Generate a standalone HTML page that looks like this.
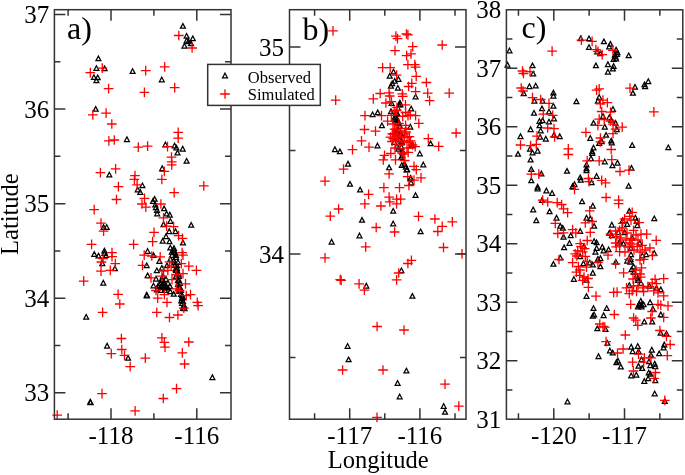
<!DOCTYPE html>
<html><head><meta charset="utf-8"><style>
html,body{margin:0;padding:0;background:#fff;width:685px;height:475px;overflow:hidden}
svg{display:block}
text{font-family:"Liberation Serif",serif;fill:#000}
svg{will-change:transform}
</style></head><body>
<svg width="685" height="475" viewBox="0 0 685 475">
<defs>
<path id="p" d="M-4.85 0h9.7M0 -4.85v9.7" stroke="#f00" stroke-width="1.3" fill="none"/>
<path id="t" d="M0 -2.3L2.45 2.3L-2.45 2.3Z" stroke="#000" stroke-width="1.25" fill="none"/>
</defs>
<rect width="685" height="475" fill="#fff"/>
<g>
<use href="#t" x="98.4" y="58.4"/>
<use href="#t" x="96.4" y="68.1"/>
<use href="#t" x="104.6" y="68.4"/>
<use href="#t" x="93.9" y="77.1"/>
<use href="#t" x="97.7" y="77.4"/>
<use href="#t" x="96.4" y="80.3"/>
<use href="#t" x="132.6" y="71.1"/>
<use href="#t" x="182.9" y="25.9"/>
<use href="#t" x="186.6" y="35.8"/>
<use href="#t" x="192.8" y="38.3"/>
<use href="#t" x="186.6" y="40.6"/>
<use href="#t" x="191.0" y="43.4"/>
<use href="#t" x="184.4" y="45.8"/>
<use href="#t" x="188.4" y="41.4"/>
<use href="#t" x="161.8" y="79.5"/>
<use href="#t" x="95.7" y="108.9"/>
<use href="#t" x="126.9" y="139.2"/>
<use href="#t" x="109.3" y="174.6"/>
<use href="#t" x="142.4" y="185.3"/>
<use href="#t" x="137.7" y="189.5"/>
<use href="#t" x="140.3" y="192.0"/>
<use href="#t" x="165.4" y="144.5"/>
<use href="#t" x="174.6" y="145.5"/>
<use href="#t" x="176.4" y="147.6"/>
<use href="#t" x="182.7" y="148.7"/>
<use href="#t" x="177.5" y="152.6"/>
<use href="#t" x="186.6" y="160.8"/>
<use href="#t" x="162.2" y="168.2"/>
<use href="#t" x="103.6" y="227.0"/>
<use href="#t" x="106.7" y="227.0"/>
<use href="#t" x="94.3" y="254.0"/>
<use href="#t" x="98.5" y="255.6"/>
<use href="#t" x="104.4" y="250.6"/>
<use href="#t" x="104.4" y="253.1"/>
<use href="#t" x="106.1" y="255.2"/>
<use href="#t" x="102.3" y="263.2"/>
<use href="#t" x="114.9" y="268.3"/>
<use href="#t" x="154.6" y="198.9"/>
<use href="#t" x="155.3" y="204.6"/>
<use href="#t" x="155.9" y="207.2"/>
<use href="#t" x="164.1" y="208.4"/>
<use href="#t" x="157.2" y="213.5"/>
<use href="#t" x="166.6" y="213.5"/>
<use href="#t" x="169.8" y="214.7"/>
<use href="#t" x="170.4" y="221.0"/>
<use href="#t" x="163.5" y="224.2"/>
<use href="#t" x="169.2" y="231.2"/>
<use href="#t" x="175.5" y="231.2"/>
<use href="#t" x="166.0" y="236.2"/>
<use href="#t" x="191.2" y="224.9"/>
<use href="#t" x="162.7" y="240.8"/>
<use href="#t" x="169.5" y="241.3"/>
<use href="#t" x="183.0" y="242.5"/>
<use href="#t" x="147.6" y="251.0"/>
<use href="#t" x="153.5" y="255.2"/>
<use href="#t" x="146.7" y="265.3"/>
<use href="#t" x="159.4" y="261.0"/>
<use href="#t" x="156.8" y="270.3"/>
<use href="#t" x="147.6" y="275.4"/>
<use href="#t" x="153.5" y="285.5"/>
<use href="#t" x="146.7" y="294.7"/>
<use href="#t" x="170.3" y="247.6"/>
<use href="#t" x="173.7" y="250.1"/>
<use href="#t" x="172.0" y="255.2"/>
<use href="#t" x="173.7" y="260.2"/>
<use href="#t" x="167.0" y="265.3"/>
<use href="#t" x="177.0" y="265.3"/>
<use href="#t" x="161.9" y="267.8"/>
<use href="#t" x="178.7" y="273.7"/>
<use href="#t" x="161.9" y="278.7"/>
<use href="#t" x="160.2" y="283.0"/>
<use href="#t" x="165.3" y="285.5"/>
<use href="#t" x="170.3" y="291.4"/>
<use href="#t" x="177.9" y="280.4"/>
<use href="#t" x="178.7" y="287.2"/>
<use href="#t" x="182.1" y="295.6"/>
<use href="#t" x="181.3" y="300.6"/>
<use href="#t" x="183.8" y="305.7"/>
<use href="#t" x="184.6" y="308.2"/>
<use href="#t" x="173.7" y="293.9"/>
<use href="#t" x="156.0" y="278.7"/>
<use href="#t" x="163.6" y="282.1"/>
<use href="#t" x="168.0" y="287.9"/>
<use href="#t" x="159.5" y="285.0"/>
<use href="#t" x="164.2" y="287.0"/>
<use href="#t" x="175.6" y="268.9"/>
<use href="#t" x="171.8" y="251.9"/>
<use href="#t" x="170.4" y="259.0"/>
<use href="#t" x="174.6" y="262.3"/>
<use href="#t" x="103.3" y="282.7"/>
<use href="#t" x="86.2" y="316.8"/>
<use href="#t" x="107.1" y="345.7"/>
<use href="#t" x="128.1" y="357.9"/>
<use href="#t" x="90.2" y="401.7"/>
<use href="#t" x="212.4" y="377.2"/>
<use href="#t" x="163.0" y="276.0"/>
<use href="#t" x="166.0" y="279.0"/>
<use href="#t" x="164.0" y="283.0"/>
<use href="#t" x="168.0" y="283.0"/>
<use href="#t" x="170.0" y="286.0"/>
<use href="#t" x="176.0" y="257.0"/>
<use href="#t" x="178.0" y="262.0"/>
<use href="#t" x="176.0" y="270.0"/>
<use href="#t" x="179.0" y="276.0"/>
<use href="#t" x="180.0" y="283.0"/>
<use href="#t" x="181.0" y="290.0"/>
<use href="#t" x="183.0" y="297.0"/>
<use href="#t" x="182.0" y="303.0"/>
<use href="#t" x="153.0" y="201.0"/>
<use href="#t" x="157.0" y="210.0"/>
<use href="#t" x="90.6" y="402.3"/>
<use href="#t" x="146.9" y="295.5"/>
<use href="#t" x="162.0" y="280.0"/>
<use href="#t" x="164.5" y="283.5"/>
<use href="#t" x="158.0" y="286.0"/>
<use href="#t" x="162.0" y="286.5"/>
<use href="#t" x="166.0" y="287.0"/>
<use href="#t" x="157.0" y="289.5"/>
<use href="#t" x="161.0" y="290.0"/>
<use href="#t" x="165.0" y="290.0"/>
<use href="#t" x="174.0" y="248.0"/>
<use href="#t" x="175.0" y="252.0"/>
<use href="#t" x="176.0" y="255.0"/>
<use href="#t" x="175.0" y="265.0"/>
<use href="#t" x="177.0" y="268.0"/>
<use href="#t" x="178.0" y="272.0"/>
<use href="#t" x="176.0" y="276.0"/>
<use href="#t" x="179.0" y="280.0"/>
<use href="#t" x="178.0" y="284.0"/>
<use href="#t" x="180.0" y="287.0"/>
<use href="#t" x="179.0" y="291.0"/>
<use href="#t" x="181.0" y="294.0"/>
<use href="#t" x="182.0" y="298.0"/>
<use href="#t" x="183.0" y="301.0"/>
<use href="#t" x="184.0" y="305.0"/>
<use href="#t" x="183.0" y="308.0"/>
<use href="#t" x="393.5" y="71.6"/>
<use href="#t" x="389.7" y="75.8"/>
<use href="#t" x="398.5" y="79.0"/>
<use href="#t" x="394.7" y="80.8"/>
<use href="#t" x="392.2" y="83.4"/>
<use href="#t" x="390.9" y="85.9"/>
<use href="#t" x="397.9" y="87.8"/>
<use href="#t" x="415.6" y="96.6"/>
<use href="#t" x="391.6" y="103.0"/>
<use href="#t" x="400.4" y="104.2"/>
<use href="#t" x="411.2" y="108.6"/>
<use href="#t" x="372.6" y="114.3"/>
<use href="#t" x="377.7" y="112.4"/>
<use href="#t" x="391.0" y="111.2"/>
<use href="#t" x="399.9" y="102.6"/>
<use href="#t" x="397.5" y="113.5"/>
<use href="#t" x="397.0" y="118.7"/>
<use href="#t" x="395.2" y="120.6"/>
<use href="#t" x="398.9" y="123.4"/>
<use href="#t" x="381.9" y="125.3"/>
<use href="#t" x="410.3" y="126.7"/>
<use href="#t" x="396.6" y="132.4"/>
<use href="#t" x="401.3" y="134.8"/>
<use href="#t" x="395.6" y="137.2"/>
<use href="#t" x="377.5" y="145.5"/>
<use href="#t" x="334.9" y="149.2"/>
<use href="#t" x="339.9" y="151.4"/>
<use href="#t" x="348.0" y="163.7"/>
<use href="#t" x="398.4" y="148.9"/>
<use href="#t" x="401.3" y="141.4"/>
<use href="#t" x="394.3" y="142.0"/>
<use href="#t" x="412.8" y="145.4"/>
<use href="#t" x="402.4" y="152.4"/>
<use href="#t" x="401.3" y="157.0"/>
<use href="#t" x="419.8" y="153.5"/>
<use href="#t" x="401.8" y="165.1"/>
<use href="#t" x="405.9" y="166.8"/>
<use href="#t" x="407.1" y="169.2"/>
<use href="#t" x="389.1" y="167.4"/>
<use href="#t" x="423.3" y="164.5"/>
<use href="#t" x="410.5" y="177.8"/>
<use href="#t" x="411.1" y="182.5"/>
<use href="#t" x="430.6" y="143.4"/>
<use href="#t" x="350.0" y="183.9"/>
<use href="#t" x="360.1" y="189.6"/>
<use href="#t" x="362.0" y="219.9"/>
<use href="#t" x="359.5" y="235.5"/>
<use href="#t" x="331.6" y="241.7"/>
<use href="#t" x="415.5" y="195.1"/>
<use href="#t" x="393.2" y="210.8"/>
<use href="#t" x="393.2" y="223.5"/>
<use href="#t" x="420.6" y="231.3"/>
<use href="#t" x="366.3" y="285.7"/>
<use href="#t" x="401.4" y="270.3"/>
<use href="#t" x="412.4" y="295.9"/>
<use href="#t" x="347.6" y="346.0"/>
<use href="#t" x="348.6" y="359.4"/>
<use href="#t" x="406.4" y="370.6"/>
<use href="#t" x="397.6" y="383.0"/>
<use href="#t" x="399.7" y="396.5"/>
<use href="#t" x="443.7" y="406.0"/>
<use href="#t" x="445.0" y="411.9"/>
<use href="#t" x="394.0" y="118.8"/>
<use href="#t" x="397.0" y="122.6"/>
<use href="#t" x="400.7" y="133.0"/>
<use href="#t" x="399.8" y="139.6"/>
<use href="#t" x="397.0" y="146.3"/>
<use href="#t" x="402.6" y="151.0"/>
<use href="#t" x="411.2" y="145.3"/>
<use href="#t" x="399.2" y="104.7"/>
<use href="#t" x="396.0" y="113.2"/>
<use href="#t" x="398.2" y="121.6"/>
<use href="#t" x="397.1" y="130.0"/>
<use href="#t" x="399.2" y="138.4"/>
<use href="#t" x="401.3" y="146.8"/>
<use href="#t" x="402.4" y="155.5"/>
<use href="#t" x="404.5" y="163.7"/>
<use href="#t" x="406.6" y="169.5"/>
<use href="#t" x="410.8" y="178.4"/>
<use href="#t" x="398.0" y="108.0"/>
<use href="#t" x="400.0" y="126.0"/>
<use href="#t" x="402.0" y="142.0"/>
<use href="#t" x="395.0" y="117.0"/>
<use href="#t" x="509.5" y="50.5"/>
<use href="#t" x="507.5" y="64.7"/>
<use href="#t" x="532.5" y="65.4"/>
<use href="#t" x="533.2" y="73.6"/>
<use href="#t" x="529.4" y="86.2"/>
<use href="#t" x="535.7" y="85.6"/>
<use href="#t" x="580.7" y="38.3"/>
<use href="#t" x="589.0" y="38.3"/>
<use href="#t" x="589.0" y="47.1"/>
<use href="#t" x="597.2" y="51.5"/>
<use href="#t" x="600.3" y="53.4"/>
<use href="#t" x="603.9" y="41.4"/>
<use href="#t" x="610.4" y="43.9"/>
<use href="#t" x="609.2" y="46.5"/>
<use href="#t" x="616.1" y="49.6"/>
<use href="#t" x="617.4" y="52.2"/>
<use href="#t" x="614.8" y="54.7"/>
<use href="#t" x="616.1" y="58.5"/>
<use href="#t" x="613.6" y="59.1"/>
<use href="#t" x="595.9" y="65.4"/>
<use href="#t" x="607.9" y="64.2"/>
<use href="#t" x="613.6" y="66.0"/>
<use href="#t" x="612.9" y="68.6"/>
<use href="#t" x="607.9" y="71.7"/>
<use href="#t" x="628.7" y="55.3"/>
<use href="#t" x="648.3" y="81.2"/>
<use href="#t" x="644.5" y="84.3"/>
<use href="#t" x="645.1" y="86.2"/>
<use href="#t" x="635.0" y="86.8"/>
<use href="#t" x="523.7" y="93.2"/>
<use href="#t" x="553.4" y="92.6"/>
<use href="#t" x="553.4" y="95.7"/>
<use href="#t" x="534.4" y="100.8"/>
<use href="#t" x="542.6" y="100.8"/>
<use href="#t" x="553.4" y="105.8"/>
<use href="#t" x="542.0" y="108.4"/>
<use href="#t" x="534.0" y="112.8"/>
<use href="#t" x="549.0" y="111.5"/>
<use href="#t" x="554.0" y="118.5"/>
<use href="#t" x="539.5" y="121.0"/>
<use href="#t" x="542.6" y="120.4"/>
<use href="#t" x="549.0" y="121.6"/>
<use href="#t" x="539.5" y="125.4"/>
<use href="#t" x="530.6" y="129.2"/>
<use href="#t" x="540.7" y="130.5"/>
<use href="#t" x="520.5" y="136.2"/>
<use href="#t" x="540.1" y="136.8"/>
<use href="#t" x="545.8" y="138.7"/>
<use href="#t" x="554.0" y="134.9"/>
<use href="#t" x="559.7" y="136.2"/>
<use href="#t" x="576.4" y="101.4"/>
<use href="#t" x="599.2" y="97.0"/>
<use href="#t" x="597.9" y="100.8"/>
<use href="#t" x="613.0" y="109.0"/>
<use href="#t" x="603.0" y="116.0"/>
<use href="#t" x="609.3" y="117.2"/>
<use href="#t" x="593.5" y="122.9"/>
<use href="#t" x="611.2" y="119.7"/>
<use href="#t" x="604.8" y="126.7"/>
<use href="#t" x="615.6" y="122.9"/>
<use href="#t" x="616.8" y="129.2"/>
<use href="#t" x="590.3" y="138.0"/>
<use href="#t" x="606.1" y="134.9"/>
<use href="#t" x="601.7" y="141.2"/>
<use href="#t" x="611.2" y="140.6"/>
<use href="#t" x="599.2" y="143.1"/>
<use href="#t" x="632.9" y="92.9"/>
<use href="#t" x="632.2" y="145.1"/>
<use href="#t" x="668.3" y="147.3"/>
<use href="#t" x="518.0" y="153.9"/>
<use href="#t" x="530.0" y="148.8"/>
<use href="#t" x="532.5" y="152.6"/>
<use href="#t" x="537.6" y="150.7"/>
<use href="#t" x="530.6" y="159.6"/>
<use href="#t" x="531.3" y="169.1"/>
<use href="#t" x="541.4" y="173.5"/>
<use href="#t" x="531.3" y="180.4"/>
<use href="#t" x="537.6" y="186.7"/>
<use href="#t" x="537.6" y="188.5"/>
<use href="#t" x="546.4" y="190.5"/>
<use href="#t" x="552.1" y="193.0"/>
<use href="#t" x="593.5" y="147.6"/>
<use href="#t" x="592.2" y="151.4"/>
<use href="#t" x="592.2" y="153.0"/>
<use href="#t" x="611.8" y="142.5"/>
<use href="#t" x="591.0" y="158.3"/>
<use href="#t" x="604.8" y="161.5"/>
<use href="#t" x="612.4" y="165.3"/>
<use href="#t" x="617.5" y="162.7"/>
<use href="#t" x="586.5" y="164.6"/>
<use href="#t" x="586.5" y="168.4"/>
<use href="#t" x="586.5" y="170.3"/>
<use href="#t" x="567.0" y="170.9"/>
<use href="#t" x="596.6" y="176.0"/>
<use href="#t" x="580.2" y="177.3"/>
<use href="#t" x="580.8" y="179.8"/>
<use href="#t" x="591.6" y="182.3"/>
<use href="#t" x="574.5" y="184.2"/>
<use href="#t" x="572.6" y="186.1"/>
<use href="#t" x="631.5" y="167.9"/>
<use href="#t" x="628.6" y="185.8"/>
<use href="#t" x="629.3" y="210.9"/>
<use href="#t" x="542.0" y="200.1"/>
<use href="#t" x="533.2" y="209.5"/>
<use href="#t" x="549.6" y="211.4"/>
<use href="#t" x="536.3" y="220.3"/>
<use href="#t" x="556.5" y="217.7"/>
<use href="#t" x="560.3" y="225.9"/>
<use href="#t" x="562.8" y="227.8"/>
<use href="#t" x="563.5" y="236.7"/>
<use href="#t" x="564.1" y="247.4"/>
<use href="#t" x="582.1" y="201.3"/>
<use href="#t" x="592.8" y="205.7"/>
<use href="#t" x="586.5" y="217.7"/>
<use href="#t" x="590.3" y="218.4"/>
<use href="#t" x="594.1" y="225.9"/>
<use href="#t" x="580.2" y="231.0"/>
<use href="#t" x="570.7" y="235.4"/>
<use href="#t" x="569.5" y="243.0"/>
<use href="#t" x="584.0" y="246.2"/>
<use href="#t" x="594.1" y="241.1"/>
<use href="#t" x="596.6" y="242.4"/>
<use href="#t" x="596.6" y="248.0"/>
<use href="#t" x="602.3" y="246.8"/>
<use href="#t" x="608.6" y="249.3"/>
<use href="#t" x="603.6" y="250.6"/>
<use href="#t" x="595.4" y="251.8"/>
<use href="#t" x="611.8" y="224.7"/>
<use href="#t" x="609.3" y="232.9"/>
<use href="#t" x="611.8" y="235.4"/>
<use href="#t" x="654.3" y="218.3"/>
<use href="#t" x="635.4" y="217.6"/>
<use href="#t" x="636.6" y="220.8"/>
<use href="#t" x="637.3" y="225.2"/>
<use href="#t" x="627.2" y="224.0"/>
<use href="#t" x="622.7" y="220.2"/>
<use href="#t" x="618.3" y="232.2"/>
<use href="#t" x="624.6" y="232.2"/>
<use href="#t" x="632.2" y="237.8"/>
<use href="#t" x="619.6" y="241.6"/>
<use href="#t" x="623.4" y="243.5"/>
<use href="#t" x="631.0" y="248.0"/>
<use href="#t" x="639.8" y="242.9"/>
<use href="#t" x="646.1" y="254.3"/>
<use href="#t" x="642.3" y="255.5"/>
<use href="#t" x="654.3" y="253.0"/>
<use href="#t" x="631.0" y="254.3"/>
<use href="#t" x="630.3" y="261.8"/>
<use href="#t" x="615.8" y="261.8"/>
<use href="#t" x="553.4" y="263.9"/>
<use href="#t" x="560.3" y="257.6"/>
<use href="#t" x="580.2" y="256.3"/>
<use href="#t" x="583.4" y="263.3"/>
<use href="#t" x="589.7" y="262.6"/>
<use href="#t" x="592.8" y="264.5"/>
<use href="#t" x="597.9" y="258.8"/>
<use href="#t" x="600.4" y="258.2"/>
<use href="#t" x="600.4" y="266.4"/>
<use href="#t" x="592.8" y="272.7"/>
<use href="#t" x="573.9" y="279.0"/>
<use href="#t" x="586.5" y="279.7"/>
<use href="#t" x="586.5" y="296.1"/>
<use href="#t" x="593.5" y="308.1"/>
<use href="#t" x="606.7" y="308.1"/>
<use href="#t" x="627.2" y="260.7"/>
<use href="#t" x="630.7" y="259.3"/>
<use href="#t" x="631.5" y="269.3"/>
<use href="#t" x="633.6" y="266.5"/>
<use href="#t" x="636.5" y="275.8"/>
<use href="#t" x="637.9" y="277.9"/>
<use href="#t" x="629.3" y="285.1"/>
<use href="#t" x="649.4" y="285.8"/>
<use href="#t" x="656.5" y="287.9"/>
<use href="#t" x="660.8" y="289.4"/>
<use href="#t" x="640.8" y="300.8"/>
<use href="#t" x="639.3" y="303.7"/>
<use href="#t" x="643.6" y="304.4"/>
<use href="#t" x="641.5" y="306.5"/>
<use href="#t" x="637.9" y="306.5"/>
<use href="#t" x="650.1" y="302.2"/>
<use href="#t" x="652.9" y="308.7"/>
<use href="#t" x="660.8" y="314.4"/>
<use href="#t" x="644.3" y="321.6"/>
<use href="#t" x="652.2" y="321.6"/>
<use href="#t" x="594.1" y="314.5"/>
<use href="#t" x="592.8" y="315.8"/>
<use href="#t" x="603.6" y="315.2"/>
<use href="#t" x="597.3" y="328.4"/>
<use href="#t" x="605.5" y="329.0"/>
<use href="#t" x="607.4" y="342.9"/>
<use href="#t" x="609.9" y="350.5"/>
<use href="#t" x="598.5" y="356.2"/>
<use href="#t" x="660.6" y="332.7"/>
<use href="#t" x="666.5" y="333.5"/>
<use href="#t" x="664.3" y="344.5"/>
<use href="#t" x="663.6" y="347.5"/>
<use href="#t" x="631.2" y="346.7"/>
<use href="#t" x="637.8" y="346.0"/>
<use href="#t" x="632.6" y="351.2"/>
<use href="#t" x="638.5" y="351.2"/>
<use href="#t" x="651.8" y="349.7"/>
<use href="#t" x="659.2" y="353.4"/>
<use href="#t" x="641.5" y="359.3"/>
<use href="#t" x="651.0" y="354.8"/>
<use href="#t" x="654.7" y="363.7"/>
<use href="#t" x="650.3" y="365.2"/>
<use href="#t" x="638.5" y="365.9"/>
<use href="#t" x="642.2" y="368.1"/>
<use href="#t" x="631.2" y="375.5"/>
<use href="#t" x="636.3" y="374.7"/>
<use href="#t" x="648.8" y="372.5"/>
<use href="#t" x="648.1" y="378.4"/>
<use href="#t" x="617.9" y="360.7"/>
<use href="#t" x="616.4" y="362.2"/>
<use href="#t" x="620.8" y="366.6"/>
<use href="#t" x="612.7" y="352.6"/>
<use href="#t" x="567.5" y="401.5"/>
<use href="#t" x="644.3" y="381.0"/>
<use href="#t" x="649.0" y="361.3"/>
<use href="#t" x="655.3" y="366.3"/>
<use href="#t" x="650.3" y="373.9"/>
<use href="#t" x="655.3" y="380.2"/>
<use href="#t" x="654.7" y="393.5"/>
<use href="#t" x="664.8" y="401.0"/>
<use href="#t" x="634.0" y="272.0"/>
<use href="#t" x="638.0" y="280.0"/>
<use href="#t" x="641.0" y="283.0"/>
<use href="#t" x="639.5" y="305.0"/>
<use href="#t" x="641.5" y="304.5"/>
<use href="#t" x="615.5" y="56.5"/>
<use href="#t" x="617.0" y="54.0"/>
<use href="#p" x="102.3" y="68.1"/>
<use href="#p" x="90.3" y="72.6"/>
<use href="#p" x="108.6" y="88.7"/>
<use href="#p" x="178.8" y="35.5"/>
<use href="#p" x="192.1" y="48.0"/>
<use href="#p" x="145.7" y="70.6"/>
<use href="#p" x="164.7" y="66.8"/>
<use href="#p" x="174.7" y="87.6"/>
<use href="#p" x="144.4" y="92.4"/>
<use href="#p" x="92.8" y="114.9"/>
<use href="#p" x="106.1" y="113.1"/>
<use href="#p" x="111.8" y="124.0"/>
<use href="#p" x="108.9" y="140.9"/>
<use href="#p" x="114.3" y="140.0"/>
<use href="#p" x="138.3" y="147.2"/>
<use href="#p" x="100.4" y="172.7"/>
<use href="#p" x="115.6" y="168.9"/>
<use href="#p" x="135.0" y="175.6"/>
<use href="#p" x="134.4" y="179.4"/>
<use href="#p" x="137.1" y="184.8"/>
<use href="#p" x="144.5" y="198.3"/>
<use href="#p" x="178.2" y="132.4"/>
<use href="#p" x="178.2" y="138.2"/>
<use href="#p" x="147.6" y="146.2"/>
<use href="#p" x="167.5" y="146.6"/>
<use href="#p" x="171.5" y="157.1"/>
<use href="#p" x="171.7" y="161.8"/>
<use href="#p" x="171.7" y="164.8"/>
<use href="#p" x="164.3" y="171.3"/>
<use href="#p" x="161.8" y="179.4"/>
<use href="#p" x="203.8" y="185.8"/>
<use href="#p" x="118.4" y="186.6"/>
<use href="#p" x="116.5" y="199.5"/>
<use href="#p" x="94.2" y="209.7"/>
<use href="#p" x="101.0" y="223.2"/>
<use href="#p" x="103.6" y="231.2"/>
<use href="#p" x="91.6" y="244.3"/>
<use href="#p" x="103.1" y="258.6"/>
<use href="#p" x="101.4" y="262.0"/>
<use href="#p" x="112.0" y="252.7"/>
<use href="#p" x="112.0" y="256.7"/>
<use href="#p" x="115.3" y="263.6"/>
<use href="#p" x="101.0" y="271.2"/>
<use href="#p" x="110.3" y="270.4"/>
<use href="#p" x="133.6" y="244.4"/>
<use href="#p" x="174.2" y="192.6"/>
<use href="#p" x="142.0" y="204.0"/>
<use href="#p" x="145.8" y="207.2"/>
<use href="#p" x="160.9" y="204.0"/>
<use href="#p" x="163.5" y="217.9"/>
<use href="#p" x="173.6" y="226.7"/>
<use href="#p" x="166.6" y="226.1"/>
<use href="#p" x="178.6" y="235.6"/>
<use href="#p" x="154.0" y="232.4"/>
<use href="#p" x="182.4" y="238.3"/>
<use href="#p" x="152.6" y="241.7"/>
<use href="#p" x="144.2" y="255.2"/>
<use href="#p" x="151.8" y="256.0"/>
<use href="#p" x="160.2" y="256.8"/>
<use href="#p" x="182.1" y="252.6"/>
<use href="#p" x="183.0" y="255.2"/>
<use href="#p" x="142.5" y="265.3"/>
<use href="#p" x="169.5" y="261.9"/>
<use href="#p" x="167.8" y="270.3"/>
<use href="#p" x="163.6" y="271.2"/>
<use href="#p" x="171.2" y="266.1"/>
<use href="#p" x="181.3" y="263.6"/>
<use href="#p" x="188.8" y="266.1"/>
<use href="#p" x="196.4" y="270.3"/>
<use href="#p" x="151.0" y="277.9"/>
<use href="#p" x="161.9" y="276.2"/>
<use href="#p" x="172.0" y="279.6"/>
<use href="#p" x="176.2" y="274.5"/>
<use href="#p" x="183.0" y="273.7"/>
<use href="#p" x="185.5" y="283.8"/>
<use href="#p" x="176.2" y="288.8"/>
<use href="#p" x="179.6" y="290.5"/>
<use href="#p" x="190.5" y="294.7"/>
<use href="#p" x="186.3" y="295.6"/>
<use href="#p" x="156.0" y="290.5"/>
<use href="#p" x="157.7" y="298.1"/>
<use href="#p" x="164.4" y="294.7"/>
<use href="#p" x="167.0" y="302.3"/>
<use href="#p" x="197.3" y="302.3"/>
<use href="#p" x="198.1" y="305.7"/>
<use href="#p" x="183.8" y="308.2"/>
<use href="#p" x="156.8" y="312.4"/>
<use href="#p" x="169.5" y="317.5"/>
<use href="#p" x="177.9" y="315.0"/>
<use href="#p" x="83.7" y="281.2"/>
<use href="#p" x="102.6" y="312.4"/>
<use href="#p" x="121.4" y="338.5"/>
<use href="#p" x="121.8" y="349.5"/>
<use href="#p" x="111.3" y="353.7"/>
<use href="#p" x="124.5" y="355.4"/>
<use href="#p" x="130.2" y="366.7"/>
<use href="#p" x="102.0" y="393.7"/>
<use href="#p" x="135.1" y="410.9"/>
<use href="#p" x="57.2" y="415.2"/>
<use href="#p" x="161.9" y="337.8"/>
<use href="#p" x="164.3" y="342.4"/>
<use href="#p" x="165.0" y="347.1"/>
<use href="#p" x="188.8" y="342.0"/>
<use href="#p" x="182.3" y="352.8"/>
<use href="#p" x="184.6" y="364.0"/>
<use href="#p" x="145.3" y="358.2"/>
<use href="#p" x="176.5" y="388.7"/>
<use href="#p" x="163.3" y="398.5"/>
<use href="#p" x="118.1" y="294.3"/>
<use href="#p" x="119.8" y="304.0"/>
<use href="#p" x="333.0" y="30.8"/>
<use href="#p" x="395.9" y="36.2"/>
<use href="#p" x="397.5" y="38.7"/>
<use href="#p" x="406.4" y="34.0"/>
<use href="#p" x="407.9" y="34.9"/>
<use href="#p" x="395.0" y="50.7"/>
<use href="#p" x="412.7" y="46.6"/>
<use href="#p" x="406.6" y="55.7"/>
<use href="#p" x="411.0" y="53.8"/>
<use href="#p" x="407.9" y="64.6"/>
<use href="#p" x="414.8" y="64.6"/>
<use href="#p" x="415.5" y="67.1"/>
<use href="#p" x="382.6" y="67.7"/>
<use href="#p" x="390.2" y="67.7"/>
<use href="#p" x="442.2" y="45.0"/>
<use href="#p" x="396.6" y="75.2"/>
<use href="#p" x="416.2" y="76.4"/>
<use href="#p" x="411.8" y="83.4"/>
<use href="#p" x="408.6" y="86.5"/>
<use href="#p" x="415.6" y="91.6"/>
<use href="#p" x="402.3" y="93.9"/>
<use href="#p" x="380.2" y="93.5"/>
<use href="#p" x="389.1" y="92.8"/>
<use href="#p" x="389.7" y="96.0"/>
<use href="#p" x="373.3" y="98.9"/>
<use href="#p" x="385.9" y="103.0"/>
<use href="#p" x="405.5" y="104.8"/>
<use href="#p" x="365.0" y="115.6"/>
<use href="#p" x="381.5" y="115.6"/>
<use href="#p" x="396.6" y="110.5"/>
<use href="#p" x="408.0" y="115.6"/>
<use href="#p" x="415.6" y="115.6"/>
<use href="#p" x="391.4" y="101.6"/>
<use href="#p" x="397.0" y="107.3"/>
<use href="#p" x="394.2" y="111.1"/>
<use href="#p" x="405.6" y="112.5"/>
<use href="#p" x="410.3" y="114.9"/>
<use href="#p" x="402.7" y="116.3"/>
<use href="#p" x="391.4" y="115.4"/>
<use href="#p" x="387.6" y="121.1"/>
<use href="#p" x="398.9" y="123.4"/>
<use href="#p" x="418.8" y="123.4"/>
<use href="#p" x="405.6" y="125.3"/>
<use href="#p" x="396.1" y="129.1"/>
<use href="#p" x="400.8" y="131.0"/>
<use href="#p" x="392.3" y="133.8"/>
<use href="#p" x="404.6" y="133.8"/>
<use href="#p" x="398.0" y="136.7"/>
<use href="#p" x="409.4" y="136.7"/>
<use href="#p" x="402.7" y="96.4"/>
<use href="#p" x="426.4" y="82.5"/>
<use href="#p" x="427.7" y="93.1"/>
<use href="#p" x="449.2" y="93.1"/>
<use href="#p" x="429.6" y="100.7"/>
<use href="#p" x="335.7" y="100.1"/>
<use href="#p" x="364.5" y="129.5"/>
<use href="#p" x="375.5" y="131.2"/>
<use href="#p" x="361.5" y="140.8"/>
<use href="#p" x="369.0" y="147.2"/>
<use href="#p" x="352.5" y="149.7"/>
<use href="#p" x="343.5" y="169.1"/>
<use href="#p" x="384.5" y="155.3"/>
<use href="#p" x="383.3" y="159.9"/>
<use href="#p" x="390.8" y="153.5"/>
<use href="#p" x="395.5" y="159.9"/>
<use href="#p" x="393.2" y="138.5"/>
<use href="#p" x="400.1" y="137.3"/>
<use href="#p" x="407.1" y="137.3"/>
<use href="#p" x="410.5" y="140.8"/>
<use href="#p" x="415.2" y="146.6"/>
<use href="#p" x="403.6" y="154.1"/>
<use href="#p" x="408.2" y="152.4"/>
<use href="#p" x="404.7" y="160.5"/>
<use href="#p" x="389.1" y="173.8"/>
<use href="#p" x="414.0" y="166.3"/>
<use href="#p" x="416.3" y="169.7"/>
<use href="#p" x="407.6" y="176.7"/>
<use href="#p" x="414.0" y="180.2"/>
<use href="#p" x="421.0" y="177.8"/>
<use href="#p" x="383.9" y="187.7"/>
<use href="#p" x="399.5" y="187.7"/>
<use href="#p" x="456.1" y="133.0"/>
<use href="#p" x="428.3" y="138.7"/>
<use href="#p" x="438.7" y="146.3"/>
<use href="#p" x="325.0" y="181.1"/>
<use href="#p" x="368.6" y="194.4"/>
<use href="#p" x="364.8" y="203.8"/>
<use href="#p" x="338.6" y="209.0"/>
<use href="#p" x="330.3" y="216.2"/>
<use href="#p" x="376.2" y="227.5"/>
<use href="#p" x="365.7" y="246.8"/>
<use href="#p" x="408.9" y="185.5"/>
<use href="#p" x="389.1" y="197.1"/>
<use href="#p" x="396.6" y="199.2"/>
<use href="#p" x="400.7" y="199.2"/>
<use href="#p" x="389.8" y="201.9"/>
<use href="#p" x="396.6" y="203.9"/>
<use href="#p" x="380.9" y="206.0"/>
<use href="#p" x="418.5" y="216.3"/>
<use href="#p" x="434.9" y="219.0"/>
<use href="#p" x="394.6" y="232.0"/>
<use href="#p" x="452.3" y="221.8"/>
<use href="#p" x="437.8" y="231.5"/>
<use href="#p" x="442.2" y="226.3"/>
<use href="#p" x="443.5" y="247.5"/>
<use href="#p" x="462.0" y="253.8"/>
<use href="#p" x="325.0" y="257.9"/>
<use href="#p" x="340.2" y="279.7"/>
<use href="#p" x="341.2" y="280.3"/>
<use href="#p" x="359.1" y="283.8"/>
<use href="#p" x="364.4" y="290.1"/>
<use href="#p" x="377.1" y="326.5"/>
<use href="#p" x="411.4" y="260.3"/>
<use href="#p" x="407.9" y="263.5"/>
<use href="#p" x="398.7" y="273.0"/>
<use href="#p" x="396.6" y="279.9"/>
<use href="#p" x="342.6" y="370.0"/>
<use href="#p" x="377.0" y="417.4"/>
<use href="#p" x="404.0" y="330.0"/>
<use href="#p" x="383.0" y="370.0"/>
<use href="#p" x="445.0" y="384.2"/>
<use href="#p" x="458.8" y="406.2"/>
<use href="#p" x="393.0" y="124.0"/>
<use href="#p" x="394.6" y="129.2"/>
<use href="#p" x="406.0" y="132.0"/>
<use href="#p" x="405.6" y="128.5"/>
<use href="#p" x="393.5" y="134.0"/>
<use href="#p" x="397.5" y="135.5"/>
<use href="#p" x="404.5" y="136.5"/>
<use href="#p" x="390.5" y="137.2"/>
<use href="#p" x="396.5" y="140.5"/>
<use href="#p" x="403.0" y="141.0"/>
<use href="#p" x="409.0" y="142.5"/>
<use href="#p" x="412.5" y="145.0"/>
<use href="#p" x="392.0" y="141.5"/>
<use href="#p" x="400.0" y="145.0"/>
<use href="#p" x="407.0" y="148.0"/>
<use href="#p" x="395.0" y="148.0"/>
<use href="#p" x="402.0" y="153.0"/>
<use href="#p" x="552.1" y="51.2"/>
<use href="#p" x="522.5" y="71.0"/>
<use href="#p" x="523.5" y="73.5"/>
<use href="#p" x="530.0" y="71.7"/>
<use href="#p" x="521.2" y="88.0"/>
<use href="#p" x="523.0" y="91.0"/>
<use href="#p" x="581.4" y="40.2"/>
<use href="#p" x="592.1" y="41.4"/>
<use href="#p" x="595.9" y="49.6"/>
<use href="#p" x="602.2" y="54.7"/>
<use href="#p" x="612.9" y="50.3"/>
<use href="#p" x="630.0" y="88.1"/>
<use href="#p" x="532.5" y="97.6"/>
<use href="#p" x="540.7" y="99.5"/>
<use href="#p" x="549.0" y="103.3"/>
<use href="#p" x="543.3" y="114.1"/>
<use href="#p" x="552.7" y="115.3"/>
<use href="#p" x="547.7" y="128.0"/>
<use href="#p" x="554.0" y="128.6"/>
<use href="#p" x="537.0" y="136.2"/>
<use href="#p" x="554.6" y="136.8"/>
<use href="#p" x="596.6" y="90.1"/>
<use href="#p" x="599.2" y="88.8"/>
<use href="#p" x="602.9" y="100.2"/>
<use href="#p" x="607.4" y="102.7"/>
<use href="#p" x="600.4" y="103.9"/>
<use href="#p" x="601.7" y="111.5"/>
<use href="#p" x="610.5" y="112.2"/>
<use href="#p" x="599.2" y="119.1"/>
<use href="#p" x="604.2" y="119.7"/>
<use href="#p" x="610.5" y="121.0"/>
<use href="#p" x="597.9" y="125.4"/>
<use href="#p" x="613.0" y="124.2"/>
<use href="#p" x="615.6" y="129.2"/>
<use href="#p" x="585.9" y="132.4"/>
<use href="#p" x="613.0" y="133.6"/>
<use href="#p" x="600.4" y="138.0"/>
<use href="#p" x="653.9" y="111.9"/>
<use href="#p" x="622.2" y="127.2"/>
<use href="#p" x="520.5" y="145.0"/>
<use href="#p" x="530.6" y="145.7"/>
<use href="#p" x="536.3" y="144.3"/>
<use href="#p" x="531.3" y="174.1"/>
<use href="#p" x="538.8" y="174.1"/>
<use href="#p" x="600.4" y="141.9"/>
<use href="#p" x="611.2" y="149.5"/>
<use href="#p" x="587.2" y="160.8"/>
<use href="#p" x="599.2" y="160.8"/>
<use href="#p" x="611.8" y="159.6"/>
<use href="#p" x="588.4" y="178.5"/>
<use href="#p" x="589.1" y="181.7"/>
<use href="#p" x="601.7" y="180.4"/>
<use href="#p" x="605.5" y="182.9"/>
<use href="#p" x="574.5" y="189.3"/>
<use href="#p" x="606.1" y="197.5"/>
<use href="#p" x="620.0" y="171.5"/>
<use href="#p" x="629.0" y="170.1"/>
<use href="#p" x="618.6" y="200.1"/>
<use href="#p" x="618.6" y="203.7"/>
<use href="#p" x="632.2" y="212.3"/>
<use href="#p" x="542.6" y="200.1"/>
<use href="#p" x="547.7" y="202.0"/>
<use href="#p" x="557.2" y="202.6"/>
<use href="#p" x="561.6" y="204.5"/>
<use href="#p" x="563.5" y="208.9"/>
<use href="#p" x="555.3" y="223.4"/>
<use href="#p" x="557.8" y="233.5"/>
<use href="#p" x="563.5" y="232.9"/>
<use href="#p" x="567.6" y="212.7"/>
<use href="#p" x="589.7" y="210.8"/>
<use href="#p" x="585.3" y="222.8"/>
<use href="#p" x="592.2" y="221.5"/>
<use href="#p" x="590.3" y="232.3"/>
<use href="#p" x="572.6" y="229.7"/>
<use href="#p" x="575.8" y="232.9"/>
<use href="#p" x="587.2" y="240.5"/>
<use href="#p" x="580.2" y="243.6"/>
<use href="#p" x="584.6" y="248.7"/>
<use href="#p" x="577.7" y="250.6"/>
<use href="#p" x="610.5" y="234.2"/>
<use href="#p" x="615.6" y="231.0"/>
<use href="#p" x="616.8" y="236.7"/>
<use href="#p" x="615.6" y="243.0"/>
<use href="#p" x="616.2" y="246.8"/>
<use href="#p" x="624.6" y="218.9"/>
<use href="#p" x="629.7" y="216.4"/>
<use href="#p" x="631.0" y="220.2"/>
<use href="#p" x="639.2" y="222.7"/>
<use href="#p" x="622.7" y="223.3"/>
<use href="#p" x="619.6" y="230.3"/>
<use href="#p" x="633.5" y="230.3"/>
<use href="#p" x="641.0" y="234.1"/>
<use href="#p" x="646.7" y="234.1"/>
<use href="#p" x="656.2" y="240.4"/>
<use href="#p" x="619.6" y="245.4"/>
<use href="#p" x="629.7" y="242.9"/>
<use href="#p" x="632.2" y="244.2"/>
<use href="#p" x="637.3" y="246.7"/>
<use href="#p" x="642.3" y="245.4"/>
<use href="#p" x="649.9" y="248.0"/>
<use href="#p" x="643.6" y="259.3"/>
<use href="#p" x="652.4" y="255.5"/>
<use href="#p" x="629.1" y="259.3"/>
<use href="#p" x="619.6" y="251.7"/>
<use href="#p" x="559.0" y="259.5"/>
<use href="#p" x="575.2" y="253.8"/>
<use href="#p" x="582.7" y="251.9"/>
<use href="#p" x="585.3" y="256.3"/>
<use href="#p" x="572.6" y="262.6"/>
<use href="#p" x="587.2" y="261.4"/>
<use href="#p" x="586.5" y="267.1"/>
<use href="#p" x="608.0" y="255.1"/>
<use href="#p" x="597.9" y="262.6"/>
<use href="#p" x="615.6" y="263.9"/>
<use href="#p" x="576.4" y="272.1"/>
<use href="#p" x="579.6" y="275.3"/>
<use href="#p" x="582.7" y="280.3"/>
<use href="#p" x="588.4" y="287.3"/>
<use href="#p" x="613.7" y="292.3"/>
<use href="#p" x="596.0" y="296.1"/>
<use href="#p" x="640.0" y="260.0"/>
<use href="#p" x="641.5" y="267.9"/>
<use href="#p" x="623.6" y="272.9"/>
<use href="#p" x="635.0" y="273.6"/>
<use href="#p" x="640.8" y="277.2"/>
<use href="#p" x="655.1" y="279.3"/>
<use href="#p" x="663.7" y="278.6"/>
<use href="#p" x="652.2" y="282.9"/>
<use href="#p" x="656.5" y="283.6"/>
<use href="#p" x="626.5" y="287.9"/>
<use href="#p" x="633.6" y="285.8"/>
<use href="#p" x="637.9" y="285.8"/>
<use href="#p" x="642.9" y="287.9"/>
<use href="#p" x="647.9" y="286.5"/>
<use href="#p" x="653.7" y="290.8"/>
<use href="#p" x="658.0" y="292.9"/>
<use href="#p" x="632.2" y="290.8"/>
<use href="#p" x="629.3" y="293.7"/>
<use href="#p" x="636.5" y="291.5"/>
<use href="#p" x="643.6" y="291.5"/>
<use href="#p" x="663.7" y="295.8"/>
<use href="#p" x="617.1" y="292.2"/>
<use href="#p" x="630.7" y="304.4"/>
<use href="#p" x="658.0" y="304.4"/>
<use href="#p" x="660.8" y="305.1"/>
<use href="#p" x="668.0" y="305.8"/>
<use href="#p" x="652.2" y="311.5"/>
<use href="#p" x="663.7" y="317.3"/>
<use href="#p" x="650.8" y="318.0"/>
<use href="#p" x="633.6" y="318.0"/>
<use href="#p" x="635.8" y="320.1"/>
<use href="#p" x="614.3" y="314.5"/>
<use href="#p" x="599.8" y="324.0"/>
<use href="#p" x="603.0" y="326.5"/>
<use href="#p" x="604.8" y="327.2"/>
<use href="#p" x="606.1" y="341.7"/>
<use href="#p" x="617.5" y="353.0"/>
<use href="#p" x="637.8" y="325.4"/>
<use href="#p" x="625.3" y="335.0"/>
<use href="#p" x="659.9" y="330.5"/>
<use href="#p" x="666.5" y="336.4"/>
<use href="#p" x="670.2" y="344.5"/>
<use href="#p" x="623.1" y="349.0"/>
<use href="#p" x="667.3" y="355.6"/>
<use href="#p" x="638.5" y="354.1"/>
<use href="#p" x="644.4" y="357.8"/>
<use href="#p" x="651.0" y="357.8"/>
<use href="#p" x="632.6" y="362.2"/>
<use href="#p" x="643.7" y="362.2"/>
<use href="#p" x="633.4" y="371.0"/>
<use href="#p" x="655.5" y="372.5"/>
<use href="#p" x="654.0" y="378.4"/>
<use href="#p" x="664.8" y="400.4"/>
<use href="#p" x="568.3" y="148.8"/>
<use href="#p" x="568.3" y="154.5"/>
<use href="#p" x="622.0" y="228.0"/>
<use href="#p" x="627.0" y="233.0"/>
<use href="#p" x="631.0" y="238.5"/>
<use href="#p" x="636.0" y="235.0"/>
<use href="#p" x="626.0" y="240.0"/>
<use href="#p" x="620.5" y="238.0"/>
<use href="#p" x="634.0" y="250.0"/>
<use href="#p" x="640.0" y="252.0"/>
<use href="#p" x="625.0" y="252.0"/>
<use href="#p" x="628.0" y="247.0"/>
<use href="#p" x="645.0" y="250.0"/>
<use href="#p" x="638.0" y="240.0"/>
<use href="#p" x="636.0" y="270.0"/>
<use href="#p" x="640.0" y="274.0"/>
<use href="#p" x="633.0" y="279.0"/>
<use href="#p" x="576.8" y="256.0"/>
<use href="#p" x="578.4" y="266.5"/>
<use href="#p" x="581.0" y="246.6"/>
<use href="#p" x="580.0" y="270.0"/>
<use href="#p" x="584.0" y="277.0"/>
<use href="#p" x="588.0" y="278.5"/>
<use href="#p" x="598.0" y="51.4"/>
</g>
<path d="M111.00 419.2v-11M111.00 9.7v11M196.80 419.2v-11M196.80 9.7v11M68.10 419.2v-6M68.10 9.7v6M153.90 419.2v-6M153.90 9.7v6M54.4 14.50h11M231.0 14.50h-11M54.4 109.07h11M231.0 109.07h-11M54.4 203.64h11M231.0 203.64h-11M54.4 298.21h11M231.0 298.21h-11M54.4 392.78h11M231.0 392.78h-11M54.4 61.78h6M231.0 61.78h-6M54.4 156.35h6M231.0 156.35h-6M54.4 250.92h6M231.0 250.92h-6M54.4 345.50h6M231.0 345.50h-6M349.70 419.2v-11M349.70 9.7v11M419.90 419.2v-11M419.90 9.7v11M314.60 419.2v-6M314.60 9.7v6M384.80 419.2v-6M384.80 9.7v6M455.00 419.2v-6M455.00 9.7v6M289.5 47.10h11M466.0 47.10h-11M289.5 254.10h11M466.0 254.10h-11M289.5 150.60h6M466.0 150.60h-6M289.5 357.60h6M466.0 357.60h-6M553.80 419.2v-11M553.80 9.8v11M624.51 419.2v-11M624.51 9.8v11M518.44 419.2v-6M518.44 9.8v6M589.15 419.2v-6M589.15 9.8v6M659.87 419.2v-6M659.87 9.8v6M506.4 360.80h11M682.8 360.80h-11M506.4 302.30h11M682.8 302.30h-11M506.4 243.80h11M682.8 243.80h-11M506.4 185.30h11M682.8 185.30h-11M506.4 126.80h11M682.8 126.80h-11M506.4 68.30h11M682.8 68.30h-11M506.4 390.05h6M682.8 390.05h-6M506.4 331.55h6M682.8 331.55h-6M506.4 273.05h6M682.8 273.05h-6M506.4 214.55h6M682.8 214.55h-6M506.4 156.05h6M682.8 156.05h-6M506.4 97.55h6M682.8 97.55h-6M506.4 39.05h6M682.8 39.05h-6" stroke="#333" stroke-width="1.5" fill="none"/>
<rect x="54.4" y="9.7" width="176.60" height="409.50" fill="none" stroke="#333" stroke-width="1.5"/>
<rect x="289.5" y="9.7" width="176.50" height="409.50" fill="none" stroke="#333" stroke-width="1.5"/>
<rect x="506.4" y="9.8" width="176.40" height="409.40" fill="none" stroke="#333" stroke-width="1.5"/>
<text x="49.30" y="23.10" text-anchor="end" font-size="25">37</text>
<text x="49.30" y="117.67" text-anchor="end" font-size="25">36</text>
<text x="49.30" y="212.24" text-anchor="end" font-size="25">35</text>
<text x="49.30" y="306.81" text-anchor="end" font-size="25">34</text>
<text x="49.30" y="401.38" text-anchor="end" font-size="25">33</text>
<text x="111.00" y="443.80" text-anchor="middle" font-size="25">-118</text>
<text x="196.80" y="443.80" text-anchor="middle" font-size="25">-116</text>
<text x="284.00" y="56.10" text-anchor="end" font-size="25">35</text>
<text x="284.00" y="263.10" text-anchor="end" font-size="25">34</text>
<text x="349.70" y="443.80" text-anchor="middle" font-size="25">-117</text>
<text x="419.90" y="443.80" text-anchor="middle" font-size="25">-116</text>
<text x="501.30" y="427.90" text-anchor="end" font-size="25">31</text>
<text x="501.30" y="369.40" text-anchor="end" font-size="25">32</text>
<text x="501.30" y="310.90" text-anchor="end" font-size="25">33</text>
<text x="501.30" y="252.40" text-anchor="end" font-size="25">34</text>
<text x="501.30" y="193.90" text-anchor="end" font-size="25">35</text>
<text x="501.30" y="135.40" text-anchor="end" font-size="25">36</text>
<text x="501.30" y="76.90" text-anchor="end" font-size="25">37</text>
<text x="501.30" y="18.40" text-anchor="end" font-size="25">38</text>
<text x="553.80" y="443.80" text-anchor="middle" font-size="25">-120</text>
<text x="624.51" y="443.80" text-anchor="middle" font-size="25">-117</text>
<text x="67" y="39.3" font-size="32">a)</text>
<text x="302.5" y="40.2" font-size="32">b)</text>
<text x="521.5" y="38.3" font-size="32">c)</text>
<text x="378.2" y="467.9" text-anchor="middle" font-size="24.5">Longitude</text>
<text transform="translate(18.4 214.1) rotate(-90)" text-anchor="middle" font-size="24.5">Latitude</text>
<rect x="207.7" y="64.4" width="112.6" height="41" fill="#fff" stroke="#333" stroke-width="1.5"/>
<use href="#t" x="225" y="75.5"/>
<use href="#p" x="225" y="94"/>
<text x="247.8" y="82.6" font-size="16.5">Observed</text>
<text x="247.8" y="100.3" font-size="16.5">Simulated</text>
</svg>
</body></html>
